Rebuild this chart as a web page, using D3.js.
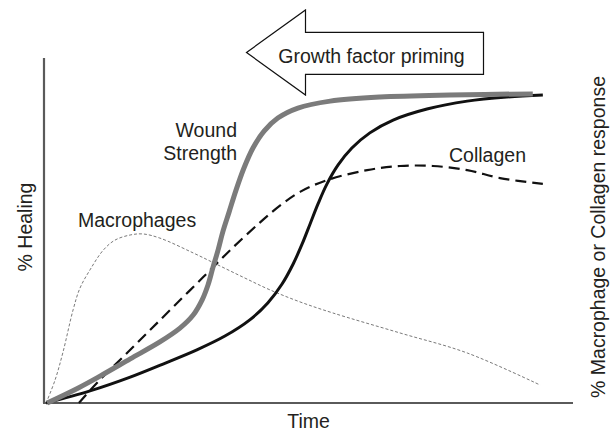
<!DOCTYPE html>
<html>
<head>
<meta charset="utf-8">
<script src="https://cdn.jsdelivr.net/npm/d3@7/dist/d3.min.js"></script>
<style>
  html, body { margin: 0; padding: 0; background: #fff; }
  svg { display: block; }
  text { font-family: "Liberation Sans", Arial, Helvetica, sans-serif; fill: #231f20; }
</style>
</head>
<body>
<svg id="chart" width="616" height="433"></svg>
<script>
// ---- Data (time and response in arbitrary 0-100 units) ----
const woundTime     = [0.6, 6.4, 10.6, 16.3, 21.9, 25.7, 28.2, 29.9, 31.0, 31.9, 32.9, 33.8, 35.0, 36.3, 37.8, 39.5, 41.6, 44.2, 48.0, 54.1, 63.5, 76.7, 92.4];
const woundStrength = [0, 4.3, 7.8, 12.8, 17.7, 21.7, 25.5, 29.9, 34.2, 39.1, 44.3, 49.6, 55.4, 61.7, 68.1, 73.9, 78.8, 82.6, 85.5, 87.5, 88.7, 89.3, 89.6];

const healingTime   = [0.4, 8.7, 16.3, 22.5, 28.9, 34.2, 38.9, 42.3, 45.0, 47.1, 48.8, 50.3, 51.8, 53.5, 55.6, 58.2, 61.6, 66.0, 72.4, 80.0, 87.5, 94.3];
const healingValue  = [0, 3.5, 7.5, 11.3, 15.4, 19.4, 24.1, 29.0, 34.5, 40.3, 46.1, 51.9, 57.7, 63.5, 69.0, 73.9, 78.3, 82.0, 85.2, 87.5, 88.7, 89.3];

const collagenTime  = [6.6, 10.0, 14.9, 19.5, 24.4, 30.1, 35.2, 40.8, 44.6, 48.4, 53.5, 61.1, 67.3, 73.5, 80.0, 86.2, 94.3];
const collagenValue = [0, 5.8, 13.3, 20.3, 27.8, 36.5, 44.3, 52.3, 57.2, 61.2, 64.6, 67.5, 68.7, 68.7, 67.5, 65.2, 63.5];

const macroTime     = [0.4, 2.1, 3.6, 5.5, 6.8, 8.7, 11.2, 13.4, 16.3, 18.7, 21.9, 28.2, 33.3, 38.0, 42.7, 48.4, 54.6, 67.3, 80.0, 93.8];
const macroValue    = [0, 6.7, 14.8, 27.0, 33.3, 38.6, 44.3, 47.2, 48.7, 49.0, 47.8, 43.5, 39.7, 36.2, 32.8, 29.3, 26.1, 20.3, 14.5, 5.2];

const seriesLabels  = ["Wound", "Strength", "Macrophages", "Collagen"];
const xAxisLabel    = "Time";
const yAxisLabel    = "% Healing";
const y2AxisLabel   = "% Macrophage or Collagen response";
const arrowLabel    = "Growth factor priming";

// ---- Layout ----
const svg = d3.select("#chart");
const x = d3.scaleLinear().domain([0, 100]).range([44, 573]);
const y = d3.scaleLinear().domain([0, 100]).range([403, 58]);

const zip = (xs, ys) => xs.map((v, i) => [v, ys[i]]);
const line = d3.line().x(d => x(d[0])).y(d => y(d[1])).curve(d3.curveCatmullRom.alpha(0.5));

// Axes (no ticks)
const axisColor = "#5a5a5a";
svg.append("line").attr("x1", x(0)).attr("x2", x(0)).attr("y1", y(100)).attr("y2", y(0))
  .attr("stroke", axisColor).attr("stroke-width", 2.2);
svg.append("line").attr("x1", x(0) - 1).attr("x2", x(100)).attr("y1", y(0)).attr("y2", y(0))
  .attr("stroke", axisColor).attr("stroke-width", 2.2);

// Macrophages (thin dotted)
svg.append("path").datum(zip(macroTime, macroValue)).attr("d", line)
  .attr("fill", "none").attr("stroke", "#6a6a6a").attr("stroke-width", 0.9)
  .attr("stroke-dasharray", "3,2");

// Collagen (dashed)
svg.append("path").datum(zip(collagenTime, collagenValue)).attr("d", line)
  .attr("fill", "none").attr("stroke", "#111").attr("stroke-width", 2.2)
  .attr("stroke-dasharray", "11,6");

// Healing (black)
svg.append("path").datum(zip(healingTime, healingValue)).attr("d", line)
  .attr("fill", "none").attr("stroke", "#111").attr("stroke-width", 3);

// Wound strength (thick gray)
svg.append("path").datum(zip(woundTime, woundStrength)).attr("d", line)
  .attr("fill", "none").attr("stroke", "#7b7b7b").attr("stroke-width", 5)
  .attr("stroke-linecap", "butt");

// Series labels
const fs = 19.5;
svg.append("text").attr("x", 237).attr("y", 137).attr("text-anchor", "end")
  .attr("font-size", fs).text(seriesLabels[0]);
svg.append("text").attr("x", 237).attr("y", 160).attr("text-anchor", "end")
  .attr("font-size", fs).text(seriesLabels[1]);
svg.append("text").attr("x", 78).attr("y", 227).attr("font-size", fs).text(seriesLabels[2]);
svg.append("text").attr("x", 449).attr("y", 162).attr("font-size", fs).text(seriesLabels[3]);

// Axis titles
svg.append("text").attr("x", (x(0) + x(100)) / 2).attr("y", 428).attr("text-anchor", "middle")
  .attr("font-size", fs).text(xAxisLabel);
svg.append("text").attr("transform", "translate(31.5,227) rotate(-90)").attr("text-anchor", "middle")
  .attr("font-size", fs).text(yAxisLabel);
svg.append("text").attr("transform", "translate(605,237) rotate(-90)").attr("text-anchor", "middle")
  .attr("font-size", fs).text(y2AxisLabel);

// Arrow annotation
const arrow = [[246.5, 52.5], [305.5, 10], [305.5, 32.3], [483.5, 32.3], [483.5, 74.3], [305.5, 74.3], [305.5, 95]];
svg.append("polygon").attr("points", arrow.map(p => p.join(",")).join(" "))
  .attr("fill", "#fff").attr("stroke", "#111").attr("stroke-width", 1.2).attr("stroke-linejoin", "miter");
svg.append("text").attr("x", 371.5).attr("y", 63.3).attr("text-anchor", "middle")
  .attr("font-size", fs).text(arrowLabel);
</script>
</body>
</html>
